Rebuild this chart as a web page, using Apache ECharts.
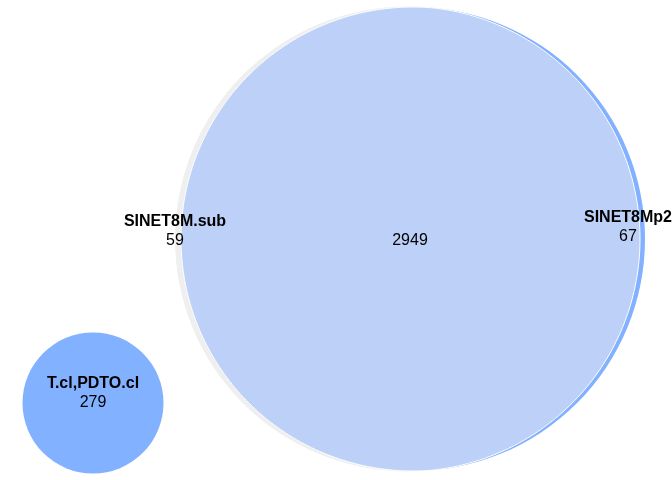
<!DOCTYPE html>
<html>
<head>
<meta charset="utf-8">
<script src="https://cdn.jsdelivr.net/npm/echarts@6/dist/echarts.min.js"></script>
<style>html,body{margin:0;padding:0;background:#fff}#chart{width:672px;height:480px}</style>
</head>
<body>
<div id="chart"></div>
<script>
// sets and counts
const setNames = ['SINET8M.sub', 'SINET8Mp2', 'T.cl,PDTO.cl'];
const onlyCounts = [59, 67, 279];
const overlapCount = 2949;
// circle geometry in plot units (x right, y down)
const circleX = [407.5, 413, 93];
const circleY = [239, 239, 403];
const circleR = [232.5, 232, 70.5];
const circleColors = ['#EFEFEF', '#82B1FF', '#82B1FF'];
const overlapColor = '#BDD0F7';
// label anchors
const labelX = [175, 628, 93];
const labelY = [222, 218, 384];

const chart = echarts.init(document.getElementById('chart'));

function renderCircles(params, api) {
  const c = api.coord([api.value(0), api.value(1)]);
  const r = api.size([api.value(2), 0])[0];
  return { type: 'circle', shape: { cx: c[0], cy: c[1], r: r }, style: { fill: api.value(3) } };
}

// sample points on circle (cx,cy,r) from angle t0 to t1
function arcPoints(cx, cy, r, t0, t1, n) {
  const pts = [];
  for (let k = 0; k <= n; k++) {
    const t = t0 + (t1 - t0) * k / n;
    pts.push([cx + r * Math.cos(t), cy + r * Math.sin(t)]);
  }
  return pts;
}

function renderOverlap(params, api) {
  const a = api.coord([circleX[0], circleY[0]]);
  const b = api.coord([circleX[1], circleY[1]]);
  const ra = api.size([circleR[0], 0])[0];
  const rb = api.size([circleR[1], 0])[0];
  const dx = b[0] - a[0], dy = b[1] - a[1];
  const d = Math.sqrt(dx * dx + dy * dy);
  const l = (d * d + ra * ra - rb * rb) / (2 * d);
  const h = Math.sqrt(ra * ra - l * l);
  const ux = dx / d, uy = dy / d;
  const mx = a[0] + l * ux, my = a[1] + l * uy;
  let top = [mx + h * uy, my - h * ux];
  let bot = [mx - h * uy, my + h * ux];
  if (top[1] > bot[1]) { const t = top; top = bot; bot = t; }
  const ang = (c, p) => Math.atan2(p[1] - c[1], p[0] - c[0]);
  // left boundary: circle B from top going left to bottom
  let bt = ang(b, top), bb = ang(b, bot);
  if (bb < bt) bb += 2 * Math.PI; // top (~-90deg) -> 180 -> bottom (~90+360?) ensure through left
  if (bb - bt < Math.PI) bb += 2 * Math.PI;
  // choose direction passing through angle PI
  let left = arcPoints(b[0], b[1], rb, bt, bt - (2 * Math.PI - (ang(b, bot) - bt + 2 * Math.PI) % (2 * Math.PI)), 180);
  // right boundary: circle A from bottom going right to top
  let at = ang(a, top), ab = ang(a, bot);
  let span = (at - ab + 2 * Math.PI) % (2 * Math.PI); // from bottom decreasing through 0 to top
  let right = arcPoints(a[0], a[1], ra, ab, ab - (2 * Math.PI - span), 180);
  // pick the orientation that keeps each arc on the correct side
  if (left[90][0] > b[0]) left = arcPoints(b[0], b[1], rb, bt, bt + ((ang(b, bot) - bt + 2 * Math.PI) % (2 * Math.PI)), 180);
  if (right[90][0] < a[0]) right = arcPoints(a[0], a[1], ra, ab, ab + span - 2 * Math.PI + 2 * Math.PI, 180);
  return { type: 'polygon', shape: { points: left.concat(right) }, style: { fill: overlapColor, stroke: '#fff', lineWidth: 1 } };
}

const textStyle = { fontFamily: 'Liberation Sans, Arial, sans-serif', fontSize: 16, fill: '#000' };

function renderLabels(params, api) {
  const c = api.coord([api.value(0), api.value(1)]);
  return {
    type: 'group',
    children: [
      { type: 'text', x: c[0], y: c[1], style: Object.assign({}, textStyle, { text: api.value(2), fontWeight: 'bold', align: 'center', verticalAlign: 'middle' }) },
      { type: 'text', x: c[0], y: c[1] + 19, style: Object.assign({}, textStyle, { text: String(api.value(3)), align: 'center', verticalAlign: 'middle' }) }
    ]
  };
}

chart.setOption({
  animation: false,
  grid: { left: 0, right: 0, top: 0, bottom: 0 },
  xAxis: { type: 'value', min: 0, max: 672, show: false },
  yAxis: { type: 'value', min: 0, max: 480, inverse: true, show: false },
  series: [
    {
      type: 'custom', renderItem: renderCircles,
      data: circleX.map((x, i) => [x, circleY[i], circleR[i], circleColors[i]])
    },
    { type: 'custom', renderItem: renderOverlap, data: [[0, 0]] },
    {
      type: 'custom', renderItem: renderLabels,
      data: setNames.map((n, i) => [labelX[i], labelY[i], n, onlyCounts[i]])
        .concat([[410, 241 - 19, '', overlapCount]])
    }
  ]
});
</script>
</body>
</html>
